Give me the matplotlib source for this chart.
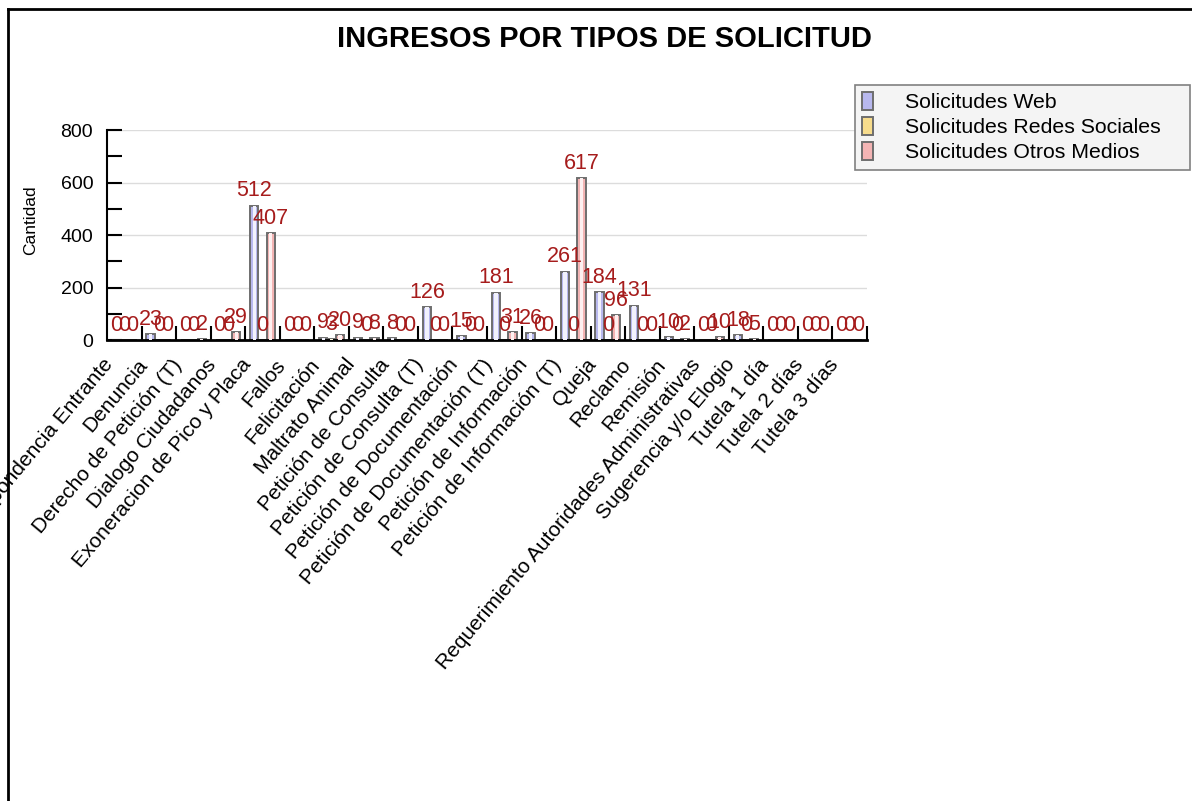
import numpy as np
import matplotlib
matplotlib.use("Agg")
import matplotlib.pyplot as plt
from matplotlib.lines import Line2D

plt.rcParams['font.family'] = ['Liberation Sans', 'DejaVu Sans']

categorias = ["Correspondencia Entrante", "Denuncia", "Derecho de Petición (T)",
              "Dialogo Ciudadanos", "Exoneracion de Pico y Placa", "Fallos",
              "Felicitación", "Maltrato Animal", "Petición de Consulta",
              "Petición de Consulta (T)", "Petición de Documentación",
              "Petición de Documentación (T)", "Petición de Información",
              "Petición de Información (T)", "Queja", "Reclamo", "Remisión",
              "Requerimiento Autoridades Administrativas", "Sugerencia y/o Elogio",
              "Tutela 1 día", "Tutela 2 días", "Tutela 3 días"]
web =   [0, 23, 0, 0, 512, 0, 9, 9, 8, 126, 15, 181, 26, 261, 184, 131, 10, 0, 18, 0, 0, 0]
redes = [0, 0, 0, 0, 0, 0, 3, 0, 0, 0, 0, 0, 0, 0, 0, 0, 0, 0, 0, 0, 0, 0]
otros = [0, 0, 2, 29, 407, 0, 20, 8, 0, 0, 0, 31, 0, 617, 96, 0, 2, 10, 5, 0, 0, 0]
series = ["Solicitudes Web", "Solicitudes Redes Sociales", "Solicitudes Otros Medios"]

colores = ['#b8b8ee', '#f7dc8c', '#f3b4b4']
centros = ['#f2f2fc', '#fff8e0', '#fdf0f0']

fig = plt.figure(figsize=(11.92, 8.01), dpi=100)
ax = fig.add_axes([0.0898, 0.5755, 0.6375, 0.2622])

x = np.arange(len(categorias))
w = 0.24
handles = []
for i, vals in enumerate([web, redes, otros]):
    pos = x + (i - 1) * w
    b = ax.bar(pos, vals, w, color=colores[i], edgecolor='#6e6e6e', linewidth=1.4,
               label=series[i], zorder=2)
    ax.bar(pos, vals, w * 0.4, color=centros[i], linewidth=0, zorder=3)
    handles.append(b)
    for p, v in zip(pos, vals):
        ax.annotate(str(v), (p, v), xytext=(0, 3), textcoords='offset points',
                    ha='center', va='bottom', fontsize=15.5, color='#a61c1c', zorder=4)

ax.set_xlim(-0.5, len(categorias) - 0.5)
ax.set_ylim(0, 800)
ax.set_yticks(range(0, 801, 200))
ax.set_yticks(range(0, 801, 100), minor=True)
ax.set_xticks(np.arange(len(categorias)) + 0.5, minor=True)
ax.set_xticks([])
# etiquetas de categoria a mano, corridas un poco a la izquierda
for xi, cat in zip(x, categorias):
    ax.annotate(cat, (xi, 0), xycoords=('data', 'axes fraction'),
                xytext=(-16, -11), textcoords='offset points',
                rotation=50, ha='right', va='top', rotation_mode='anchor', fontsize=15)
ax.tick_params(axis='x', which='minor', direction='in', length=10, width=1.5)
ax.tick_params(axis='y', which='both', direction='in', length=11, width=1.5,
               labelsize=14, pad=10)
ax.grid(axis='y', color='#dcdcdc', linewidth=1, zorder=0)
ax.set_axisbelow(True)
for s in ['top', 'right']:
    ax.spines[s].set_visible(False)
ax.spines['bottom'].set_linewidth(2)
ax.spines['left'].set_linewidth(1.5)

fig.text(0.0255, 0.725, 'Cantidad', rotation=90, ha='center', va='center', fontsize=12.5)
fig.text(0.507, 0.951, 'INGRESOS POR TIPOS DE SOLICITUD', ha='center', va='center',
         fontsize=21, fontweight='bold')

leg = fig.legend(handles=handles, labels=series, loc='upper left',
                 bbox_to_anchor=(0.7173, 0.894, 0.281, 0), mode='expand',
                 borderaxespad=0, fontsize=15.3,
                 frameon=True, fancybox=False, edgecolor='#808080', facecolor='#f4f4f4',
                 handlelength=0.5, handleheight=0.9, handletextpad=1.5,
                 labelspacing=0.22, borderpad=0.35, framealpha=1)
leg.get_frame().set_linewidth(1.2)

fig.add_artist(Line2D([0.0067, 0.0067], [0, 0.989], color='black', linewidth=2))
fig.add_artist(Line2D([0.0067, 1.0], [0.989, 0.989], color='black', linewidth=2))

fig.savefig('out.png', dpi=100)
